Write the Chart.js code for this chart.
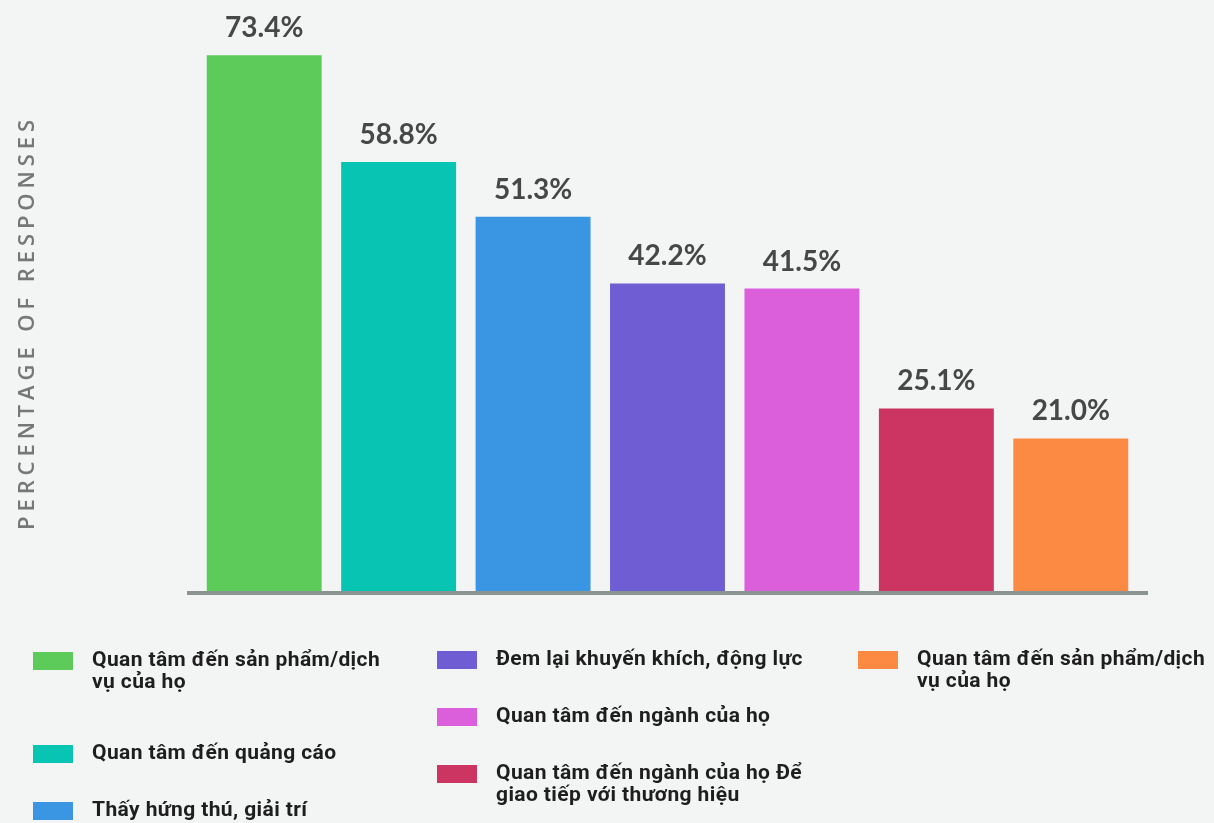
<!DOCTYPE html>
<html>
<head>
<meta charset="utf-8">
<script src="https://cdn.jsdelivr.net/npm/chart.js@4"></script>
<style>
  html, body { margin: 0; padding: 0; background: #f3f4f4; }
  #wrap { position: relative; width: 1214px; height: 823px; overflow: hidden; background: #f3f4f4; }
  #c { position: absolute; left: 0; top: 0; }
  .lg { position: absolute; display: flex; align-items: flex-start; font-family: Roboto, "Noto Sans", sans-serif; font-weight: 700; font-size: 21px; line-height: 22px; letter-spacing: 0.4px; color: #1e1e1e; }
  .lg .sw { width: 40px; height: 18px; margin-top: 4px; flex: none; }
  .lg .tx { margin-left: 19px; white-space: nowrap; }
</style>
</head>
<body>
<div id="wrap">
  <canvas id="c" width="1214" height="823"></canvas>
</div>
<script>
// ---- data ----
const categories = [
  ["Quan tâm đến sản phẩm/dịch", "vụ của họ"],
  ["Quan tâm đến quảng cáo"],
  ["Thấy hứng thú, giải trí"],
  ["Đem lại khuyến khích, động lực"],
  ["Quan tâm đến ngành của họ"],
  ["Quan tâm đến ngành của họ Để", "giao tiếp với thương hiệu"],
  ["Quan tâm đến sản phẩm/dịch", "vụ của họ"]
];
const values = [73.4, 58.8, 51.3, 42.2, 41.5, 25.1, 21.0];
const colors = ["#5ccb5a", "#08c4b3", "#3a95e2", "#6f5ed3", "#db5fdb", "#cc3562", "#fd8a42"];
const yAxisTitle = "PERCENTAGE OF RESPONSES";

// ---- legend (HTML) ----
const legendLayout = [
  {x: 33, y: 648}, {x: 33, y: 741}, {x: 33, y: 798},
  {x: 437, y: 647}, {x: 437, y: 704}, {x: 437, y: 761},
  {x: 858, y: 647}
];
const wrap = document.getElementById('wrap');
categories.forEach((lines, i) => {
  const d = document.createElement('div');
  d.className = 'lg';
  d.style.left = legendLayout[i].x + 'px';
  d.style.top = legendLayout[i].y + 'px';
  const sw = document.createElement('div');
  sw.className = 'sw';
  sw.style.background = colors[i];
  const tx = document.createElement('div');
  tx.className = 'tx';
  tx.innerHTML = lines.map(l => l.replace(/&/g,'&amp;').replace(/</g,'&lt;')).join('<br>');
  d.appendChild(sw); d.appendChild(tx);
  wrap.appendChild(d);
});

// ---- plugins ----
const decor = {
  id: 'decor',
  afterDatasetsDraw(chart) {
    const ctx = chart.ctx;
    const area = chart.chartArea;
    const yb = chart.scales.y.getPixelForValue(0);
    // baseline
    ctx.save();
    ctx.fillStyle = '#8c9393';
    ctx.fillRect(area.left - 10, yb - 1, (area.right - area.left) + 20, 4);
    // value labels
    const meta = chart.getDatasetMeta(0);
    ctx.fillStyle = '#474747';
    ctx.font = '700 28px Lato, "Open Sans", sans-serif';
    ctx.textAlign = 'center';
    ctx.textBaseline = 'alphabetic';
    meta.data.forEach((bar, i) => {
      ctx.fillText(values[i].toFixed(1) + '%', bar.x, bar.y - 18);
    });
    // y axis title
    ctx.translate(34, 325);
    ctx.rotate(-Math.PI / 2);
    ctx.fillStyle = '#777777';
    ctx.font = '600 22px "Open Sans", sans-serif';
    ctx.textBaseline = 'alphabetic';
    const target = 410;
    ctx.letterSpacing = '0px';
    const w0 = ctx.measureText(yAxisTitle).width;
    const ls = Math.max(0, (target - w0) / (yAxisTitle.length - 1));
    ctx.letterSpacing = ls + 'px';
    ctx.textAlign = 'left';
    ctx.fillText(yAxisTitle, -target / 2, 0);
    ctx.restore();
  }
};

new Chart(document.getElementById('c'), {
  type: 'bar',
  data: {
    labels: categories,
    datasets: [{
      data: values,
      backgroundColor: colors,
      borderWidth: 0,
      barPercentage: 0.855,
      categoryPercentage: 1.0
    }]
  },
  options: {
    responsive: false,
    animation: false,
    devicePixelRatio: 1,
    layout: { padding: { left: 197, right: 76, top: 7, bottom: 231 } },
    plugins: { legend: { display: false }, tooltip: { enabled: false } },
    scales: {
      x: { display: false },
      y: { display: false, min: 0, max: 80 }
    }
  },
  plugins: [decor]
});
</script>
</body>
</html>
